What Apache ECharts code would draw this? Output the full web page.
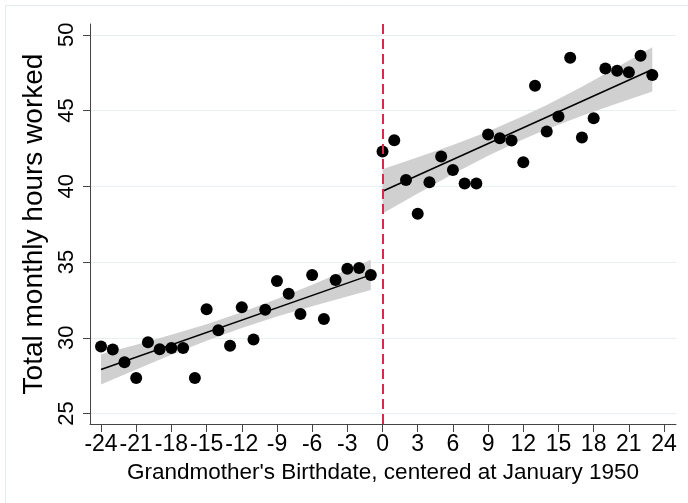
<!DOCTYPE html>
<html>
<head>
<meta charset="utf-8">
<script src="https://cdn.jsdelivr.net/npm/echarts@6/dist/echarts.min.js"></script>
<style>
html,body{margin:0;padding:0;background:#fff;}
#chart{width:688px;height:503px;}
</style>
</head>
<body>
<div id="chart"></div>
<script>
// ---- Data ----
var leftX = [-24,-23,-22,-21,-20,-19,-18,-17,-16,-15,-14,-13,-12,-11,-10,-9,-8,-7,-6,-5,-4,-3,-2,-1];
var leftY = [29.43,29.23,28.39,27.35,29.70,29.25,29.32,29.32,27.35,31.88,30.49,29.47,32.01,29.89,31.85,33.75,32.91,31.57,34.15,31.24,33.82,34.55,34.60,34.15];
var rightX = [0,1,2,3,4,5,6,7,8,9,10,11,12,13,14,15,16,17,18,19,20,21,22,23];
var rightY = [42.29,43.04,40.42,38.19,40.26,41.96,41.08,40.18,40.18,43.42,43.17,43.02,41.59,46.63,43.61,44.60,48.48,43.22,44.49,47.78,47.62,47.53,48.61,47.34];

// fitted lines (end points)
var leftFitX = [-24,-1];
var leftFitY = [27.91,34.15];
var rightFitX = [0,23];
var rightFitY = [39.67,47.71];

// confidence bands
var leftBandX  = [-24,-21,-18,-15,-12,-9,-6,-3,-1];
var leftBandLo = [26.91,27.90,28.88,29.80,30.65,31.40,32.08,32.73,33.15];
var leftBandHi = [28.91,29.54,30.20,30.90,31.69,32.56,33.50,34.49,35.15];
var rightBandX  = [0,3,6,9,12,14,17,20,23];
var rightBandLo = [38.21,39.53,40.81,42.02,43.11,43.76,44.65,45.47,46.25];
var rightBandHi = [41.13,41.91,42.73,43.62,44.63,45.36,46.57,47.85,49.17];

// tick labels
var xTicks = [-24,-21,-18,-15,-12,-9,-6,-3,0,3,6,9,12,15,18,21,24];
var yTicks = [25,30,35,40,45,50];
var cutoff = 0;

var xTitle = "Grandmother's Birthdate, centered at January 1950";
var yTitle = "Total monthly hours worked";

// ---- Build ----
function pairs(xs, ys){ return xs.map(function(x,i){ return [x, ys[i]]; }); }

function bandSeries(xs, lo, hi){
  return {
    type: 'custom',
    silent: true,
    z: 1,
    data: [0],
    renderItem: function(params, api){
      var pts = [];
      for (var i = 0; i < xs.length; i++) pts.push(api.coord([xs[i], hi[i]]));
      for (var j = xs.length - 1; j >= 0; j--) pts.push(api.coord([xs[j], lo[j]]));
      return { type: 'polygon', shape: { points: pts }, style: { fill: '#d0d0d0', stroke: null } };
    }
  };
}

var FONT = 'Liberation Sans, Arial, sans-serif';
var chart = echarts.init(document.getElementById('chart'), null, {renderer: 'canvas'});
chart.setOption({
  animation: false,
  backgroundColor: '#ffffff',
  graphic: [{
    type: 'rect', silent: true, z: -10,
    shape: { x: 5.5, y: 5.5, width: 720, height: 520 },
    style: { fill: null, stroke: '#e3eaec', lineWidth: 1 }
  }],
  grid: { left: 90, right: 12, top: 24, bottom: 79, containLabel: false },
  xAxis: {
    type: 'value', min: -24.94, max: 25.02,
    name: xTitle, nameLocation: 'middle', nameGap: 36,
    nameTextStyle: { fontFamily: FONT, fontSize: 22.5, color: '#000' },
    axisLine: { show: true, onZero: false, lineStyle: { color: '#444', width: 1 } },
    axisTick: { show: true, length: 8, lineStyle: { color: '#444' }, customValues: xTicks },
    axisLabel: { fontFamily: FONT, fontSize: 23, color: '#000', margin: 9, customValues: xTicks, showMinLabel: true, showMaxLabel: true },
    splitLine: { show: false }
  },
  yAxis: {
    type: 'value', min: 24.31, max: 50.71,
    name: yTitle, nameLocation: 'middle', nameGap: 38,
    nameTextStyle: { fontFamily: FONT, fontSize: 28, color: '#000' },
    axisLine: { show: true, onZero: false, lineStyle: { color: '#444', width: 1 } },
    axisTick: { show: true, length: 7, lineStyle: { color: '#444' }, customValues: yTicks },
    axisLabel: { fontFamily: FONT, fontSize: 22, color: '#000', rotate: 90, margin: 12, customValues: yTicks },
    splitLine: { show: false }
  },
  series: [
    bandSeries(leftBandX, leftBandLo, leftBandHi),
    bandSeries(rightBandX, rightBandLo, rightBandHi),
    {
      type: 'line', data: pairs(leftFitX, leftFitY), symbol: 'none', z: 3, silent: true,
      lineStyle: { color: '#000', width: 1.5 },
      markLine: {
        silent: true, symbol: 'none', z: 0, label: { show: false },
        lineStyle: { color: '#e8eff1', width: 1, type: 'solid' },
        data: yTicks.map(function(v){ return { yAxis: v }; })
      }
    },
    { type: 'line', data: pairs(rightFitX, rightFitY), symbol: 'none', z: 3, silent: true,
      lineStyle: { color: '#000', width: 1.5 } },
    { type: 'scatter', data: pairs(leftX, leftY), symbol: 'circle', symbolSize: 12, z: 4,
      itemStyle: { color: '#000', opacity: 1 } },
    { type: 'scatter', data: pairs(rightX, rightY), symbol: 'circle', symbolSize: 12, z: 4,
      itemStyle: { color: '#000', opacity: 1 },
      markLine: {
        silent: true, symbol: 'none', label: { show: false },
        lineStyle: { color: '#d9294f', width: 2, type: [10, 5] },
        data: [{ xAxis: cutoff }]
      }
    }
  ]
});
</script>
</body>
</html>
